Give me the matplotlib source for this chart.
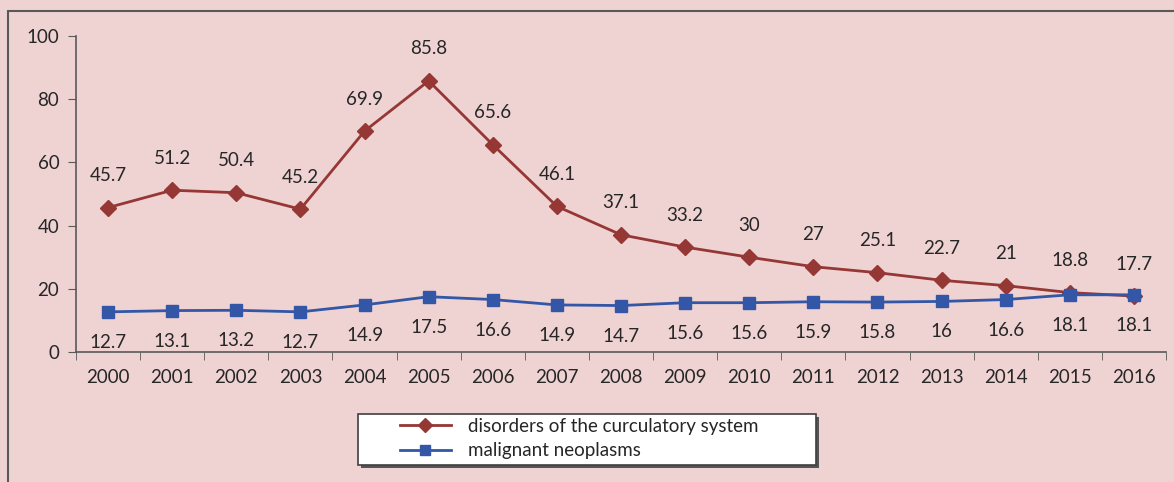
import numpy as np
from matplotlib import pyplot as plt
from matplotlib.patches import Rectangle

years = [str(y) for y in range(2000, 2017)]
circulatory = [45.7, 51.2, 50.4, 45.2, 69.9, 85.8, 65.6, 46.1, 37.1, 33.2,
               30, 27, 25.1, 22.7, 21, 18.8, 17.7]
neoplasms = [12.7, 13.1, 13.2, 12.7, 14.9, 17.5, 16.6, 14.9, 14.7, 15.6,
             15.6, 15.9, 15.8, 16, 16.6, 18.1, 18.1]

bg = '#efd3d3'
red = '#953735'
blue = '#3357a6'
txt = '#262626'
W, H = 1174, 482

plt.rcParams['font.family'] = ['Lato', 'DejaVu Sans']

fig = plt.figure(figsize=(W / 100, H / 100), dpi=100, facecolor=bg)
# outer frame
fig.patches.append(Rectangle((8 / W, -0.2), 1.2, 1.2 - 11 / H,
                             transform=fig.transFigure, fill=False,
                             edgecolor='#595959', lw=1.5))

ax = fig.add_axes([76 / W, 1 - 352 / H, 1090 / W, 316 / H])
ax.set_facecolor(bg)

x = np.arange(len(years))
ax.plot(x, circulatory, color=red, marker='D', markersize=8, lw=2,
        label='disorders of the curculatory system')
ax.plot(x, neoplasms, color=blue, marker='s', markersize=9, lw=2,
        label='malignant neoplasms')

for xi, v in zip(x, circulatory):
    ax.annotate(f'{v:g}', (xi, v), xytext=(0, 23), textcoords='offset points',
                ha='center', va='center', fontsize=13.5, color=txt)
for xi, v in zip(x, neoplasms):
    ax.annotate(f'{v:g}', (xi, v), xytext=(0, -22), textcoords='offset points',
                ha='center', va='center', fontsize=13.5, color=txt)

ax.set_xlim(-0.5, len(years) - 0.5)
ax.set_ylim(0, 100)
ax.set_yticks(range(0, 101, 20))
ax.set_xticks(x)
ax.set_xticklabels(years)
ax.set_xticks(np.arange(-0.5, len(years)), minor=True)
ax.tick_params(axis='x', which='major', length=0, pad=12, labelsize=13.5, labelcolor=txt)
ax.tick_params(axis='x', which='minor', length=6, color='#595959', direction='out')
ax.tick_params(axis='y', length=6, color='#595959', labelsize=13.5, labelcolor=txt, pad=6)
for s in ['top', 'right']:
    ax.spines[s].set_visible(False)
for s in ['left', 'bottom']:
    ax.spines[s].set_color('#595959')
    ax.spines[s].set_linewidth(1.2)

# legend box with shadow
fig.patches.append(Rectangle((361 / W, 1 - 468 / H), 458 / W, 51 / H,
                             transform=fig.transFigure, facecolor='#555555',
                             edgecolor='none'))
fig.patches.append(Rectangle((358 / W, 1 - 465 / H), 458 / W, 51 / H,
                             transform=fig.transFigure, facecolor='white',
                             edgecolor='#404040', lw=1.2))
leg = fig.legend(loc='upper left', bbox_to_anchor=(400 / W, 1 - 418 / H),
                 frameon=False, fontsize=13.5, handlelength=2.7,
                 markerscale=0.85, borderpad=0.0, labelspacing=0.38,
                 handletextpad=0.9, borderaxespad=0)
for t in leg.get_texts():
    t.set_color(txt)

fig.savefig('out.png', dpi=100, facecolor=bg)
